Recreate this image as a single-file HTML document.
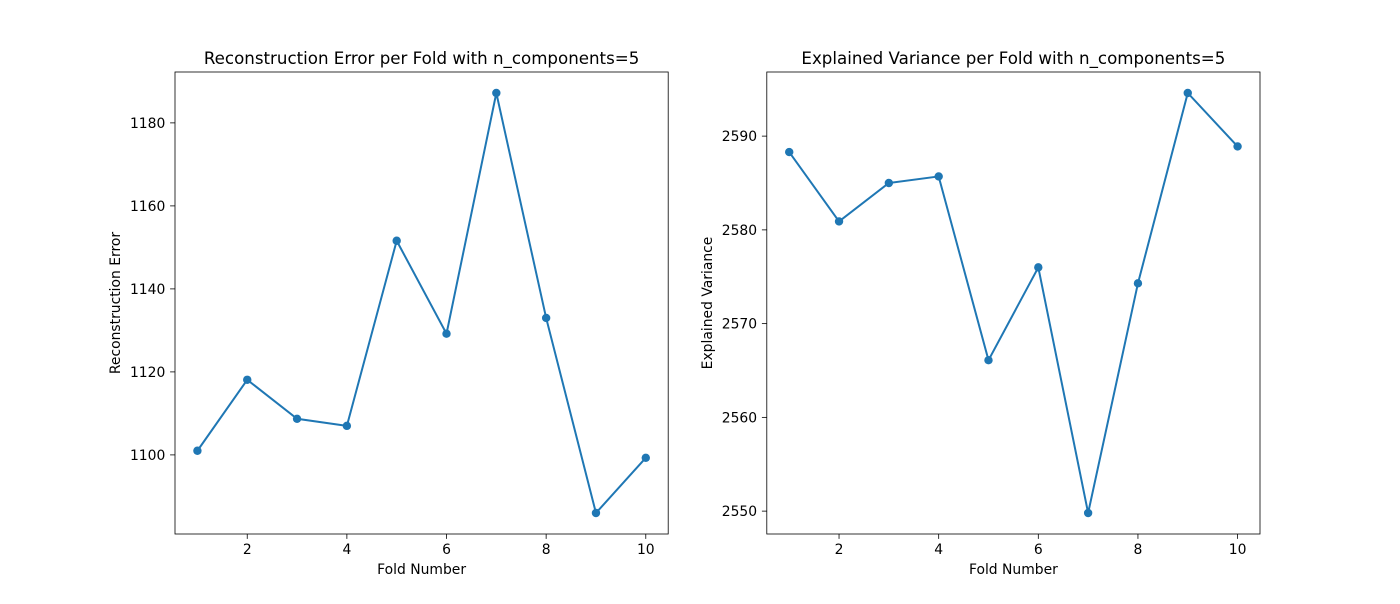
<!DOCTYPE html>
<html><head><meta charset="utf-8"><style>
body{margin:0;background:#fff;font-family:"DejaVu Sans","Liberation Sans",sans-serif;}
svg text{font-family:"DejaVu Sans","Liberation Sans",sans-serif;fill:#000;}
</style></head><body>
<svg id="fig" width="1400" height="600" xmlns="http://www.w3.org/2000/svg"></svg>
<script>
const folds = [1,2,3,4,5,6,7,8,9,10];
const reconError = [1101.0,1118.1,1108.7,1107.0,1151.6,1129.2,1187.2,1133.0,1086.0,1099.3];
const explVar = [2588.3,2580.9,2585.0,2585.7,2566.1,2576.0,2549.8,2574.3,2594.6,2588.9];
const xTicks = [2,4,6,8,10];
const reconTicks = [1100,1120,1140,1160,1180];
const varTicks = [2550,2560,2570,2580,2590];

const NS="http://www.w3.org/2000/svg";
const svg=document.getElementById('fig');
function mk(tag,attrs,parent){const e=document.createElementNS(NS,tag);for(const k in attrs)e.setAttribute(k,attrs[k]);(parent||svg).appendChild(e);return e;}

function panel(name,x0,x1,y0,y1,xs,ys,yt,title,ylabel){
  const g=mk('g',{});
  
  
  const xmin=Math.min(...xs),xmax=Math.max(...xs),xm=(xmax-xmin)*0.05;
  const ymin=Math.min(...ys),ymax=Math.max(...ys),ym=(ymax-ymin)*0.05;
  const sx=v=>x0+(v-(xmin-xm))/((xmax+xm)-(xmin-xm))*(x1-x0);
  const sy=v=>y1-(v-(ymin-ym))/((ymax+ym)-(ymin-ym))*(y1-y0);
  const t=mk('text',{x:(x0+x1)/2,y:y0-8,'text-anchor':'middle','font-size':16.67},g);t.textContent=title;
  
  xTicks.forEach(v=>{const x=sx(v);mk('line',{x1:x,x2:x,y1:y1,y2:y1+4.9,stroke:'#000','stroke-width':0.8},g);
    const tx=mk('text',{x:x,y:y1+20,'text-anchor':'middle','font-size':13.9},g);tx.textContent=v;
    });
  yt.forEach(v=>{const y=sy(v);mk('line',{x1:x0,x2:x0-4.9,y1:y,y2:y,stroke:'#000','stroke-width':0.8},g);
    const ty=mk('text',{x:x0-9.7,y:y+5,'text-anchor':'end','font-size':13.9},g);ty.textContent=v;
    });
  const xl=mk('text',{x:(x0+x1)/2,y:y1+40,'text-anchor':'middle','font-size':13.9},g);xl.textContent='Fold Number';
  
  const yl=mk('text',{x:0,y:0,'text-anchor':'middle','font-size':13.9,transform:`translate(${x0-55},${(y0+y1)/2}) rotate(-90)`},g);yl.textContent=ylabel;
  
  const pl=mk('polyline',{points:xs.map((v,i)=>sx(v)+','+sy(ys[i])).join(' '),fill:'none',stroke:'#1f77b4','stroke-width':2},g);
  
  xs.forEach((v,i)=>{const c=mk('circle',{cx:sx(v),cy:sy(ys[i]),r:4.2,fill:'#1f77b4'},g);
    });
  mk('rect',{x:x0,y:y0,width:x1-x0,height:y1-y0,fill:'none',stroke:'#000','stroke-width':0.8},g);
}
panel('reconstruction-error-chart',175,668.2,72,534,folds,reconError,reconTicks,'Reconstruction Error per Fold with n_components=5','Reconstruction Error');
panel('explained-variance-chart',766.8,1260,72,534,folds,explVar,varTicks,'Explained Variance per Fold with n_components=5','Explained Variance');
</script>
</body></html>
